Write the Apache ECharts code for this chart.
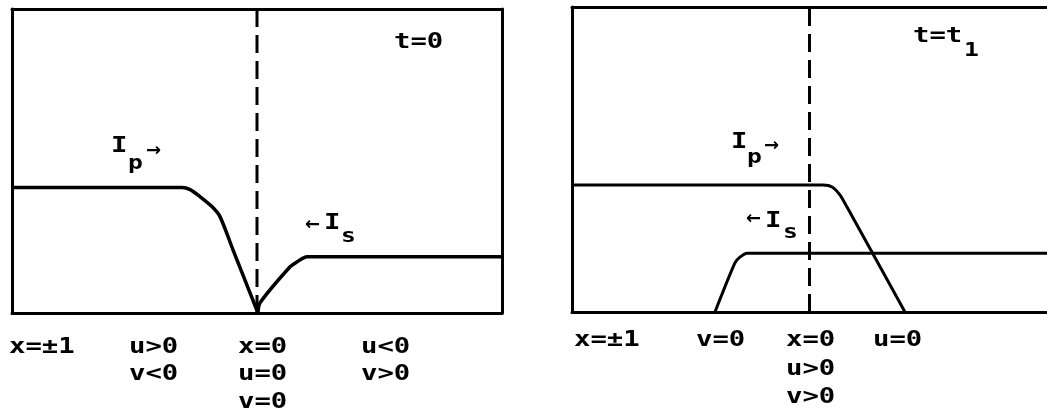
<!DOCTYPE html>
<html>
<head>
<meta charset="utf-8">
<script src="https://cdn.jsdelivr.net/npm/echarts@6/dist/echarts.min.js"></script>
<style>
  html, body { margin: 0; padding: 0; background: #fff; }
  #main { width: 1047px; height: 414px; }
</style>
</head>
<body>
<div id="main"></div>
<script>
// curves, x in [-1, 1] (0 = dashed line), y in [0, 1]
var ipLeft = [[-1, 0.413], [-0.306, 0.413], [-0.273, 0.406], [-0.233, 0.383], [-0.184, 0.35], [-0.151, 0.317], [-0.098, 0.208], [0.004, 0]];
var isLeft = [[0.004, 0], [0.012, 0.033], [0.135, 0.152], [0.163, 0.168], [0.204, 0.185], [1, 0.185]];
var ipRight = [[-1, 0.416], [0.057, 0.416], [0.095, 0.41], [0.128, 0.384], [0.158, 0.344], [0.402, 0]];
var isRight = [[-0.398, 0], [-0.314, 0.161], [-0.293, 0.18], [-0.263, 0.193], [1, 0.193]];
var divider = [[0, 0], [0, 1]];

var timeLabels = ['t=0', 't=t', '1'];
var leftLabels = ['x=±1', 'u>0', 'v<0', 'x=0', 'u=0', 'v=0', 'u<0', 'v>0'];
var rightLabels = ['x=±1', 'v=0', 'x=0', 'u>0', 'v>0', 'u=0'];

(function () {
  var myChart = echarts.init(document.getElementById('main'));
  var font = 'bold 21px "DejaVu Sans Mono", "Liberation Mono", monospace';
  var small = 'bold 19px "DejaVu Sans Mono", "Liberation Mono", monospace';
  var arrow = 'bold 18px "DejaVu Sans", sans-serif';

  function txt(s, x, y, f, sx) {
    return {
      type: 'text', x: x, y: y, scaleX: sx || 1.3,
      style: { text: s, font: f || font, fill: '#000', verticalAlign: 'middle' }
    };
  }
  function axisX(grid, pos, show, w) {
    return {
      type: 'value', gridIndex: grid, position: pos, min: -1, max: 1,
      axisLine: { show: show, onZero: false, lineStyle: { color: '#000', width: w } },
      axisTick: { show: false }, axisLabel: { show: false }, splitLine: { show: false }
    };
  }
  function axisY(grid, pos, show, w) {
    return {
      type: 'value', gridIndex: grid, position: pos, min: 0, max: 1,
      axisLine: { show: show, onZero: false, lineStyle: { color: '#000', width: w } },
      axisTick: { show: false }, axisLabel: { show: false }, splitLine: { show: false }
    };
  }
  function line(data, xi, yi, w, dashed) {
    return {
      type: 'line', xAxisIndex: xi, yAxisIndex: yi, data: data,
      symbol: 'none', smooth: dashed ? false : 0.25, silent: true,
      lineStyle: { color: '#000', width: w, type: dashed ? [18, 8] : 'solid' }
    };
  }

  var option = {
    animation: false,
    backgroundColor: '#fff',
    grid: [
      { left: 12, top: 9, width: 490, height: 304 },
      { left: 572, top: 7, width: 475, height: 305 }
    ],
    xAxis: [
      axisX(0, 'bottom', true, 3), axisX(0, 'top', true, 3),
      axisX(1, 'bottom', true, 3), axisX(1, 'top', true, 3)
    ],
    yAxis: [
      axisY(0, 'left', true, 3), axisY(0, 'right', true, 3),
      axisY(1, 'left', true, 3)
    ],
    series: [
      line(divider, 0, 0, 3, true),
      line(ipLeft, 0, 0, 3.5),
      line(isLeft, 0, 0, 3.5),
      line(divider, 2, 2, 3, true),
      line(ipRight, 2, 2, 3),
      line(isRight, 2, 2, 3)
    ],
    graphic: [
      txt(timeLabels[0], 394, 43),
      txt(timeLabels[1], 913, 37),
      txt(timeLabels[2], 964, 51, small),
      // left panel curve labels
      txt('I', 111, 147), txt('p', 128, 164, small), txt('→', 146, 151, arrow, 1),
      txt('←', 305, 225, arrow, 1), txt('I', 324, 224), txt('s', 341, 237, small),
      // right panel curve labels
      txt('I', 731, 143), txt('p', 747, 158, small), txt('→', 764, 146, arrow, 1),
      txt('←', 746, 219, arrow, 1), txt('I', 765, 222), txt('s', 783, 233, small),
      // left panel bottom labels
      txt(leftLabels[0], 9, 348), txt(leftLabels[1], 129, 348), txt(leftLabels[2], 129, 375),
      txt(leftLabels[3], 238, 348), txt(leftLabels[4], 238, 375), txt(leftLabels[5], 238, 403),
      txt(leftLabels[6], 361, 348), txt(leftLabels[7], 361, 375),
      // right panel bottom labels
      txt(rightLabels[0], 574, 341), txt(rightLabels[1], 696, 341),
      txt(rightLabels[2], 786, 341), txt(rightLabels[3], 786, 370), txt(rightLabels[4], 786, 398),
      txt(rightLabels[5], 873, 341)
    ]
  };
  if (option && typeof option === 'object') {
    myChart.setOption(option);
  }
  window.addEventListener('resize', function () {
    myChart.resize();
  });
})();
</script>
</body>
</html>
